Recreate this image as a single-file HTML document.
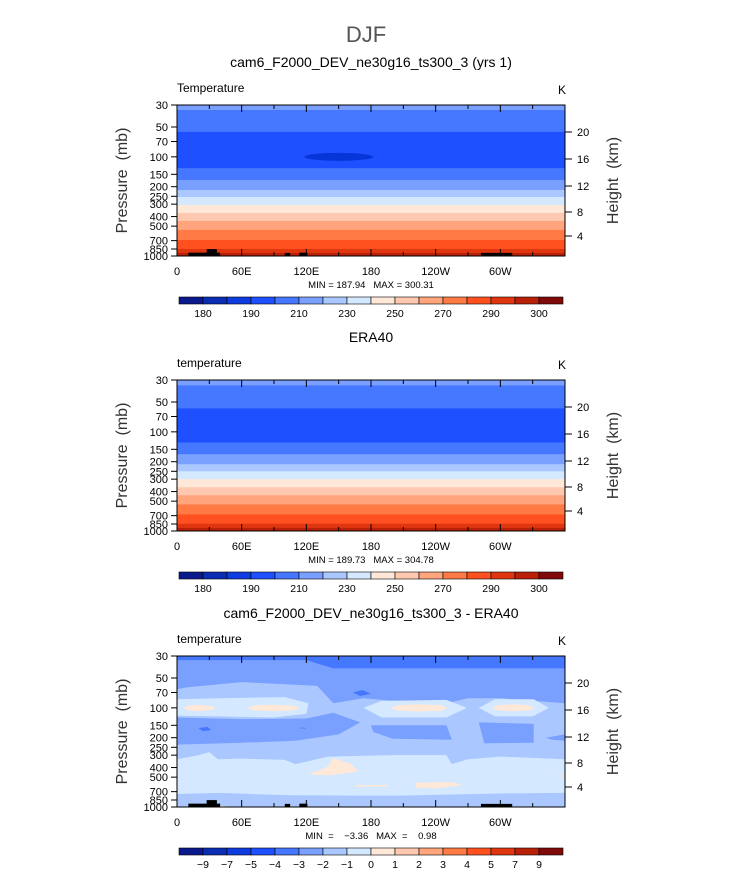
<!DOCTYPE html>
<html><head><meta charset="utf-8"><style>
body{margin:0;background:#fff;}
svg{display:block;font-family:"Liberation Sans",sans-serif;}
.pre{white-space:pre;}
</style></head><body>
<svg id="fig" width="733" height="872" viewBox="0 0 733 872"></svg>
<script>
// ---- data ----
const colors=["#0a1a8c","#0a2db4","#0e3ce0","#1e50ff","#4678ff","#7aa0ff","#aac8ff","#d4e8ff","#ffe8d8","#ffc8b0","#ffa47c","#ff7a45","#ff5020","#e03610","#b82008","#800a0a"];
const tempLabels=["180","","190","","210","","230","","250","","270","","290","","300"];
const diffLabels=["-9","-7","-5","-4","-3","-2","-1","0","1","2","3","4","5","7","9"];
const pTicks=[30,50,70,100,150,200,250,300,400,500,700,850,1000];
const lonTicks=[0,60,120,180,240,300];
const lonLabels=["0","60E","120E","180","120W","60W"];
const hTicks=[20,16,12,8,4];
const hTickDy=[27,54,81,107,131];
const modelBandTops=[30,33.7,56,130,171,216,254,306,368,443,546,689,850,933];
const modelBandColors=[5,4,3,4,5,6,7,8,9,10,11,12,13,14];
const obsBandTops=[30,34,58,128,168,212,250,300,362,436,540,680,845,930];
const obsBandColors=[5,4,3,4,5,6,7,8,9,10,11,12,13,14];
const topo=[[10.5,40,925],[27.5,37,852],[100,105,930],[113.5,121,925],[282,311,930]];
const diffShapes=[
 [5,[[0,30],[360,30],[360,90],[300,80],[270,80],[250,90],[200,85],[173,80],[145,90],[130,60],[60,55],[10,62],[0,65]]],
 [7,[[0,82],[40,80],[100,78],[122,90],[120,115],[90,125],[40,122],[0,120]]],
 [7,[[173,100],[190,85],[250,83],[269,100],[250,125],[190,125]]],
 [7,[[280,100],[295,82],[331,82],[345,100],[330,122],[295,122]]],
 [8,[[6,100],[10,95],[20,93],[32,96],[36,100],[32,105],[20,108],[10,106]]],
 [8,[[65,100],[72,94],[90,93],[108,95],[114,100],[108,106],[90,108],[72,106]]],
 [8,[[198,100],[205,94],[225,92],[245,94],[251,100],[245,107],[225,109],[205,107]]],
 [8,[[292,100],[298,94],[312,92],[326,94],[332,100],[326,106],[312,108],[298,106]]],
 [5,[[0,125],[60,130],[120,128],[145,112],[170,140],[150,185],[110,215],[60,225],[0,235]]],
 [5,[[180,150],[250,150],[255,210],[200,205],[182,175]]],
 [5,[[280,140],[331,145],[331,225],[285,228]]],
 [5,[[342,200],[360,185],[360,215],[348,210]]],
 [7,[[0,330],[20,300],[30,280],[38,330],[60,325],[100,335],[110,370],[140,310],[200,300],[250,300],[255,370],[270,330],[300,310],[360,330],[360,720],[300,730],[200,770],[100,760],[40,720],[0,740]]],
 [8,[[122,470],[140,390],[145,320],[162,370],[168,440],[140,480]]],
 [8,[[165,600],[195,598],[197,620],[167,622]]],
 [8,[[220,570],[255,560],[265,600],[240,650],[222,640]]],
 [8,[[350,485],[360,480],[360,495]]],
 [8,[[15,980],[35,960],[50,990],[20,995]]],
 [4,[[0,30],[360,30],[360,40],[145,40],[120,33],[0,33]]],
 [4,[[20,160],[28,155],[32,168],[24,172]]],
 [4,[[163,70],[172,66],[180,72],[170,76]]],
 [4,[[112,160],[118,158],[120,162]]]
];
// ---- drawing ----
const NS="http://www.w3.org/2000/svg";
const svg=document.getElementById("fig");
const X0=177,X1=565,PH=151;
function mk(tag,attrs,parent){const e=document.createElementNS(NS,tag);for(const k in attrs)e.setAttribute(k,attrs[k]);(parent||svg).appendChild(e);return e;}
function xs(lon){return X0+(X1-X0)*lon/360;}
function ys(p,top){return top+PH*Math.log(p/30)/Math.log(1000/30);}
function txt(x,y,s,size,anchor,extra,parent){const t=mk("text",Object.assign({x:x,y:y,"font-size":size,"text-anchor":anchor||"middle",fill:"#000"},extra||{}),parent);t.textContent=s;return t;}

const title=txt(366,42,"DJF",22,"middle",{fill:"#555"});



function panel(top,name,left,mm,bandTops,bandColors,shapes,showTopo,ellipse,cbLabels,cbY,key){
 const g=mk("g",{});
 
 
 const t=txt(371,top-38,name,14,"middle",{},g);
 
 
 const ls=txt(X0,top-13,left,12,"start",{},g);
 
 
 const ks=txt(558,top-11,"K",12,"start",{},g);
 
 
 const clip=mk("clipPath",{id:"c"+key},g);mk("rect",{x:X0,y:top,width:X1-X0,height:PH},clip);
 const pg=mk("g",{"clip-path":"url(#c"+key+")"},g);
 
 
 if(bandTops){
  for(let i=0;i<bandTops.length;i++){
   const y0=ys(bandTops[i],top),y1=i+1<bandTops.length?ys(bandTops[i+1],top):top+PH;
   const r=mk("rect",{x:X0,y:y0,width:X1-X0,height:y1-y0+0.5,fill:colors[bandColors[i]]},pg);
   
   
  }
  if(ellipse){const e=mk("ellipse",{cx:xs(ellipse[0]),cy:ys(ellipse[1],top),rx:xs(ellipse[2])-X0,ry:ellipse[3],fill:"#0636d8"},pg);
   
   }
 } else {
  mk("rect",{x:X0,y:top,width:X1-X0,height:PH,fill:colors[6]},pg);
  shapes.forEach(s=>{const pts=s[1].map(q=>xs(q[0])+","+ys(q[1],top)).join(" ");
   const p=mk("polygon",{points:pts,fill:colors[s[0]]},pg);
   
   });
 }
 if(showTopo)topo.forEach(b=>{const r=mk("rect",{x:xs(b[0]),y:ys(b[2],top),width:xs(b[1])-xs(b[0]),height:top+PH-ys(b[2],top),fill:"#000"},pg);
  
  });
 mk("rect",{x:X0,y:top,width:X1-X0,height:PH,fill:"none",stroke:"#000","stroke-width":1},g);
 for(let l=0;l<360;l+=30){const maj=l%60===0,len=maj?7:4;
  mk("line",{x1:xs(l),x2:xs(l),y1:top+PH,y2:top+PH-len,stroke:"#000"},g);
  mk("line",{x1:xs(l),x2:xs(l),y1:top,y2:top+len,stroke:"#000"},g);}
 lonTicks.forEach((l,i)=>{const s=txt(xs(l),top+PH+19,lonLabels[i],11,"middle",{},g);
  
  });
 pTicks.forEach(p=>{const y=ys(p,top);mk("line",{x1:X0,x2:X0-6,y1:y,y2:y,stroke:"#000"},g);
  const s=txt(X0-9,y+4,String(p),11,"end",{},g);
  
  });
 hTicks.forEach((h,i)=>{const y=top+hTickDy[i];mk("line",{x1:X1,x2:X1+7,y1:y,y2:y,stroke:"#000"},g);
  const s=txt(X1+12,y+4,String(h),11,"start",{},g);
  
  });
 const ya=txt(0,0,"Pressure  (mb)",16,"middle",{fill:"#333",class:"pre",transform:"translate(127,"+(top+PH/2)+") rotate(-90)"},g);
 
 
 const ha=txt(0,0,"Height  (km)",16,"middle",{fill:"#333",class:"pre",transform:"translate(618,"+(top+PH/2)+") rotate(-90)"},g);
 
 
 const m=txt(371,top+PH+32,mm,9.5,"middle",{class:"pre"},g);
 
 
 const cb=mk("g",{},g);
 
 
 const bw=24;
 colors.forEach((c,i)=>mk("rect",{x:179+bw*i,y:cbY,width:bw,height:7,fill:c,stroke:"#000","stroke-width":0.6},cb));
 cbLabels.forEach((s,i)=>{if(s){const t=txt(179+bw*(i+1),cbY+20,s.replace("-","\u2212"),10.5,"middle",{},cb);
  
  }});
}
panel(105,"cam6_F2000_DEV_ne30g16_ts300_3 (yrs 1)","Temperature","MIN = 187.94   MAX = 300.31",modelBandTops,modelBandColors,null,true,[150,100,32,4],tempLabels,297,"model");
panel(380,"ERA40","temperature","MIN = 189.73   MAX = 304.78",obsBandTops,obsBandColors,null,false,null,tempLabels,572,"obs");
panel(656,"cam6_F2000_DEV_ne30g16_ts300_3 - ERA40","temperature","MIN  =    \u22123.36   MAX  =    0.98",null,null,diffShapes,true,null,diffLabels,848,"diff");
</script>
</body></html>
